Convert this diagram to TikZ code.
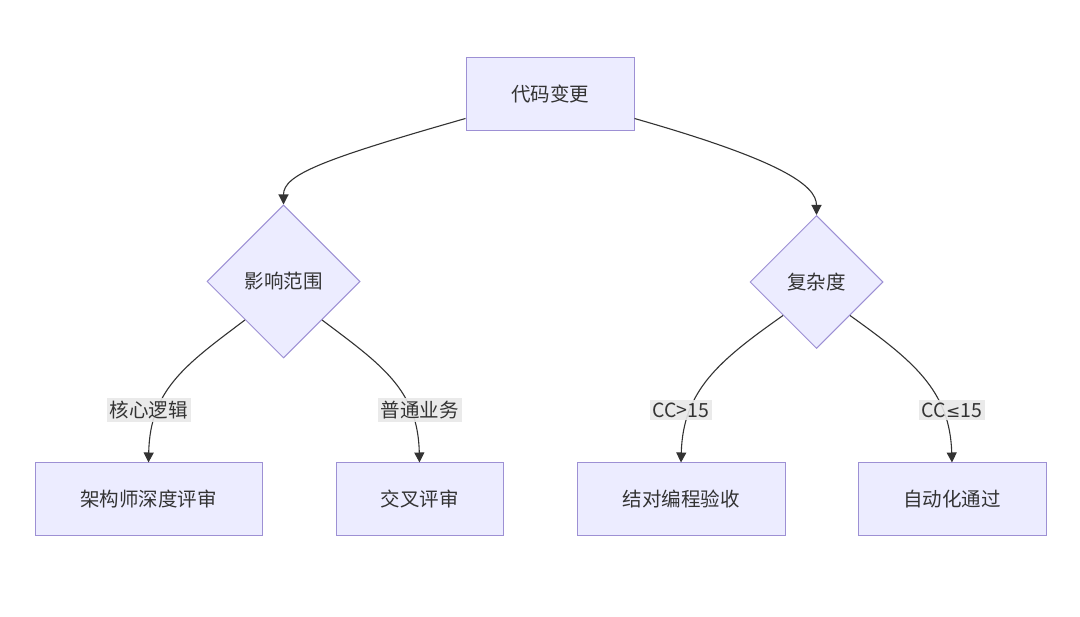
\documentclass[tikz,border=0pt]{standalone}
\usepackage{fontspec}
\newfontfamily\cjk{Noto Sans CJK SC}
\newfontfamily\dejavu{DejaVu Sans}
\usetikzlibrary{shapes.geometric,arrows.meta,calc}
\definecolor{nodefill}{HTML}{ECECFF}
\definecolor{nodeline}{HTML}{9D90D4}
\definecolor{txt}{HTML}{333333}
\definecolor{edge}{HTML}{333333}
\definecolor{lblbg}{HTML}{E8E8E8}
\tikzset{
  box/.style={draw=nodeline, fill=nodefill, line width=1pt, rectangle, inner sep=0pt, text=txt, font=\cjk\fontsize{19.5}{22}\selectfont},
  dia/.style={draw=nodeline, fill=nodefill, line width=1pt, diamond, aspect=1, inner sep=0pt, text=txt, font=\cjk\fontsize{19.5}{22}\selectfont},
  lbl/.style={fill=lblbg, fill opacity=0.9, text opacity=1, inner xsep=3pt, inner ysep=3pt, text=txt, font=\cjk\fontsize{19.5}{22}\selectfont},
  conn/.style={draw=edge, line width=1.1pt, -{Triangle[length=10pt,width=10pt]}},
}
\begin{document}
\begin{tikzpicture}[x=1pt,y=-1pt]
\useasboundingbox (0,0) rectangle (1080,617);
\fill[white] (0,0) rectangle (1080,617);
% nodes
\node[box, minimum width=168pt, minimum height=73pt] (top) at (550,94.5) {代码变更};
\node[dia, minimum width=153pt, minimum height=153pt] (d1) at (283.5,281.5) {影响范围};
\node[dia, minimum width=133pt, minimum height=133pt] (d2) at (816.5,282) {复杂度};
\node[box, minimum width=227pt, minimum height=73pt] (b1) at (148.5,499.5) {架构师深度评审};
\node[box, minimum width=167pt, minimum height=73pt] (b2) at (419.5,499.5) {交叉评审};
\node[box, minimum width=208pt, minimum height=73pt] (b3) at (681,499.5) {结对编程验收};
\node[box, minimum width=188pt, minimum height=73pt] (b4) at (952,499.5) {自动化通过};
% edges
\coordinate (t1) at ($(top.south west)+(0,-13)$);
\coordinate (t2) at ($(top.south east)+(0,-13)$);
\draw[conn] (t1) .. controls (320,160) and (283.5,175) .. (d1.north);
\draw[conn] (t2) .. controls (780,160) and (816.5,185) .. (d2.north);
\coordinate (s1) at ($(d1.west)!0.5!(d1.south)$);
\coordinate (s2) at ($(d1.east)!0.5!(d1.south)$);
\coordinate (s3) at ($(d2.west)!0.5!(d2.south)$);
\coordinate (s4) at ($(d2.east)!0.5!(d2.south)$);
\draw[conn] (s1) .. controls (185,365) and (150,390) .. (b1.north);
\draw[conn] (s2) .. controls (382,365) and (418,390) .. (b2.north);
\draw[conn] (s3) .. controls (720,360) and (683,390) .. (b3.north);
\draw[conn] (s4) .. controls (912,360) and (950,390) .. (b4.north);
% labels
\node[lbl] (l1) at (148.5,410) {核心逻辑};
\node[lbl] (l2) at (419.5,410) {普通业务};
\node[lbl] (l3) at (681,410) {CC>15};
\node[lbl] (l4) at (952,410) {CC{\dejavu\fontsize{17}{20}\selectfont ≤}15};
\end{tikzpicture}
\end{document}
